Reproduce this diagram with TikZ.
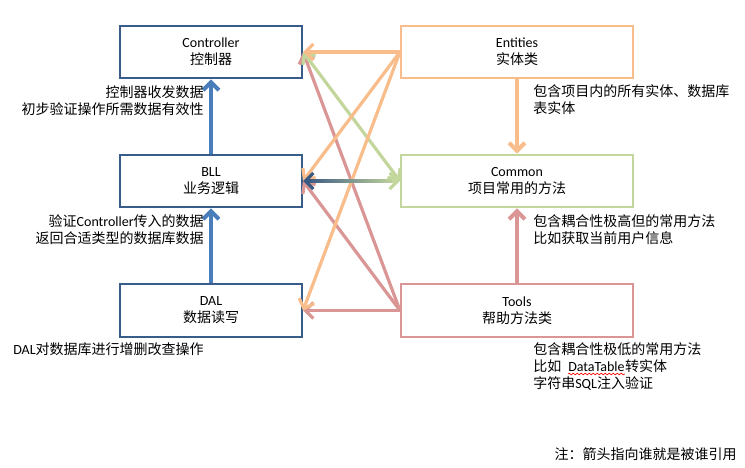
\documentclass[tikz,border=0pt]{standalone}
\usepackage{fontspec}
\setmainfont{Noto Sans CJK SC}
\newfontfamily\latfont{Carlito}
\usetikzlibrary{arrows.meta,calc,decorations.pathmorphing}
\newcommand\en[1]{{\latfont #1}}
\definecolor{navy}{HTML}{385D8A}
\definecolor{bluec}{HTML}{4A7EBB}
\definecolor{orng}{HTML}{F9BC8B}
\definecolor{grn}{HTML}{C3D69B}
\definecolor{redc}{HTML}{D99694}
\definecolor{dkb}{HTML}{3B5A82}
\begin{document}
\begin{tikzpicture}[x=0.75pt,y=-0.75pt,
  font=\fontsize{10.5pt}{12.75pt}\selectfont,
  box/.style={draw, line width=1.6pt, minimum height=39.5pt, inner sep=0pt, align=center},
  lbox/.style={box, draw=navy, minimum width=136.5pt},
  rbox/.style={box, minimum width=174pt},
  conn/.style={line width=2.4pt, -{Straight Barb[length=6pt,width=12pt]}},
  vconn/.style={conn, line width=3pt},
  note/.style={inner sep=0pt, align=left}]
\path[use as bounding box] (0,0) rectangle (745,467);

% boxes
\node[lbox] (ctrl) at (211,52) {\en{Controller}\\控制器};
\node[lbox] (bll) at (211,181) {\en{BLL}\\业务逻辑};
\node[lbox] (dal) at (211,310.5) {\en{DAL}\\数据读写};
\node[rbox, draw=orng] (ent) at (517,52) {\en{Entities}\\实体类};
\node[rbox, draw=grn] (com) at (517,181) {\en{Common}\\项目常用的方法};
\node[rbox, draw=redc] (tools) at (517,310.5) {\en{Tools}\\帮助方法类};

% vertical arrows
\draw[vconn, bluec] (bll.north) -- (ctrl.south);
\draw[vconn, bluec] (dal.north) -- (bll.south);
\draw[vconn, orng] (ent.south) -- (com.north);
\draw[vconn, redc] (tools.north) -- (com.south);

% red from Tools
\draw[conn, redc] (tools.west) -- (ctrl.east);
\draw[conn, redc] (tools.west) -- (bll.east);
\draw[conn, redc] (tools.west) -- (dal.east);

% green double arrow Controller <-> Common
\draw[line width=2.4pt, grn, {Straight Barb[length=6pt,width=12pt]}-{Straight Barb[length=6pt,width=12pt]}] (ctrl.east) -- (com.west);

% orange from Entities
\draw[conn, orng] (ent.west) -- (ctrl.east);
\draw[conn, orng] (ent.west) -- (bll.east);
\draw[conn, orng] (ent.west) -- (dal.east);

% gradient double arrow BLL <-> Common
\shade[left color=dkb, right color=grn] ($(bll.east)+(4,-1.6)$) rectangle ($(com.west)+(-4,1.6)$);
\draw[line width=2.4pt, dkb, {Straight Barb[length=6pt,width=12pt]}-] (bll.east) -- ($(bll.east)+(8,0)$);
\draw[line width=2.4pt, grn, -{Straight Barb[length=6pt,width=12pt]}] ($(com.west)+(-8,0)$) -- (com.west);

% notes
\node[note, anchor=east, align=right] (n1) at (204,100.5) {控制器收发数据\\初步验证操作所需数据有效性};
\node[note, anchor=east, align=right] (n2) at (204,229.5) {验证\en{Controller}传入的数据\\返回合适类型的数据库数据};
\node[note, anchor=west] (n3) at (13,349) {\en{DAL}对数据库进行增删改查操作};
\node[note, anchor=west] (n4) at (533,100) {包含项目内的所有实体、数据库\\表实体};
\node[note, anchor=west] (n5) at (533,229.5) {包含耦合性极高但的常用方法\\比如获取当前用户信息};
\node[note, anchor=base west] (n6a) at (533,354) {包含耦合性极低的常用方法};
\node[note, anchor=base west] (n6b) at (533,371) {比如};
\node[note, anchor=base west] (n6c) at (568,371) {\en{DataTable}};
\node[note, anchor=base west] (n6d) at (n6c.base east) {转实体};
\node[note, anchor=base west] (n6e) at (533,388) {字符串\en{SQL}注入验证};
\draw[red, line width=0.5pt, decorate, decoration={snake, amplitude=0.6pt, segment length=3pt}] ($(n6c.base west)+(0,3)$) -- ($(n6c.base east)+(0,3)$);
\node[note, anchor=east] (n7) at (737,454) {注：箭头指向谁就是被谁引用};
\end{tikzpicture}
\end{document}
